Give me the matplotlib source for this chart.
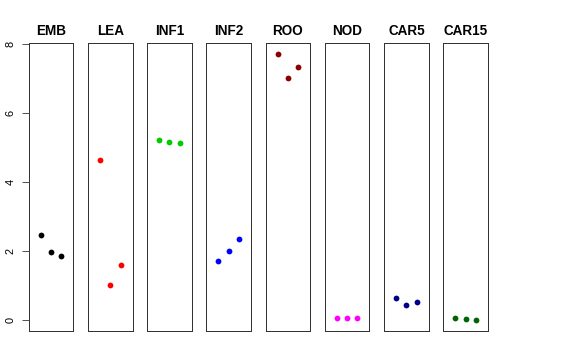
import matplotlib
matplotlib.use("Agg")
import matplotlib.pyplot as plt

plt.rcParams['font.family'] = ['Liberation Sans', 'DejaVu Sans']

tissues = ["EMB", "LEA", "INF1", "INF2", "ROO", "NOD", "CAR5", "CAR15"]
colors = ["#000000", "#FF0000", "#00CD00", "#0000FF", "#8B0000", "#FF00FF", "#00008B", "#006400"]
rep_x = [1, 2, 3]
emb = [2.47, 1.97, 1.85]
lea = [4.65, 1.02, 1.59]
inf1 = [5.22, 5.18, 5.15]
inf2 = [1.71, 2.01, 2.36]
roo = [7.73, 7.03, 7.34]
nod = [0.06, 0.06, 0.06]
car5 = [0.66, 0.43, 0.54]
car15 = [0.07, 0.05, 0.01]
values = [emb, lea, inf1, inf2, roo, nod, car5, car15]
yticks = [0, 2, 4, 6, 8]

W, H = 576, 360
fig = plt.figure(figsize=(W / 72, H / 72), dpi=72)

left0 = 28.7
step = 59.23
pw = 44.6
top_px, bot_px = 43, 331

for i, (name, col, vals) in enumerate(zip(tissues, colors, values)):
    l = left0 + i * step
    ax = fig.add_axes([l / W, 1 - bot_px / H, pw / W, (bot_px - top_px) / H])
    ax.plot(rep_x, vals, 'o', color=col, markersize=5.8, markeredgewidth=0)
    ax.set_xlim(-0.16, 4.16)
    ax.set_ylim(-0.31, 8.04)
    ax.set_xticks([])
    for s in ax.spines.values():
        s.set_linewidth(1.0)
        s.set_color("#333333")
    ax.set_title(name, fontsize=13.5, fontweight='bold', pad=8)
    if i == 0:
        ax.set_yticks(yticks)
        ax.set_yticklabels([str(t) for t in yticks], rotation=90, va='center')
        ax.tick_params(axis='y', length=7.5, width=1, pad=6, labelsize=11, color="#555555")
    else:
        ax.set_yticks([])

fig.savefig("out.png", dpi=72)
